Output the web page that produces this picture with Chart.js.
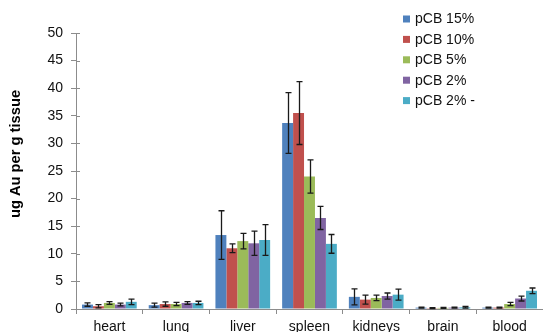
<!DOCTYPE html>
<html lang="en">
<head>
    <meta charset="UTF-8">
    <title>ug Au per g tissue</title>
    <script src="https://cdn.jsdelivr.net/npm/chart.js"></script>
    <style>
        html, body { margin: 0; padding: 0; background: #fff; }
        #wrap { width: 543px; height: 332px; }
    </style>
</head>
<body>
    <div id="wrap"><canvas id="chart_tissue"></canvas></div>

    <script>
        // organs
        const organs = ['heart', 'lung', 'liver', 'spleen', 'kidneys', 'brain', 'blood'];

        // mean values per formulation
        const pcb15 = [0.8, 0.7, 13.4, 33.7, 2.2, 0.25, 0.25];
        const pcb10 = [0.5, 0.9, 11.0, 35.5, 1.7, 0.15, 0.25];
        const pcb5 = [1.1, 0.9, 12.3, 24.0, 2.0, 0.2, 0.9];
        const pcb2 = [0.8, 1.1, 11.9, 16.5, 2.35, 0.25, 1.9];
        const pcb2minus = [1.3, 1.1, 12.5, 11.8, 2.6, 0.3, 3.3];

        // error (+/-)
        const err15 = [0.3, 0.35, 4.4, 5.5, 1.45, 0.1, 0.1];
        const err10 = [0.3, 0.4, 0.8, 5.7, 0.8, 0.1, 0.1];
        const err5 = [0.25, 0.3, 1.4, 3.0, 0.5, 0.1, 0.3];
        const err2 = [0.25, 0.25, 2.2, 2.1, 0.55, 0.1, 0.45];
        const err2minus = [0.5, 0.3, 2.8, 1.7, 1.0, 0.15, 0.5];

        const yTicks = [0, 5, 10, 15, 20, 25, 30, 35, 40, 45, 50];
        const yTitle = 'ug Au per g tissue';

        const font = 'Liberation Sans, Arial, sans-serif';

        // error bars drawn through the y scale
        const errorBars = {
            id: 'errorBars',
            afterDatasetsDraw(chart) {
                const ctx = chart.ctx;
                const y = chart.scales.y;
                ctx.save();
                ctx.strokeStyle = '#1a1a1a';
                ctx.lineWidth = 1.3;
                chart.data.datasets.forEach((ds, i) => {
                    const meta = chart.getDatasetMeta(i);
                    meta.data.forEach((bar, j) => {
                        const v = ds.data[j];
                        const e = ds.errors[j];
                        const top = y.getPixelForValue(v + e);
                        const bot = y.getPixelForValue(Math.max(0, v - e));
                        const x = Math.round(bar.x) + 0.5;
                        ctx.beginPath();
                        ctx.moveTo(x, top);
                        ctx.lineTo(x, bot);
                        ctx.moveTo(x - 3, top);
                        ctx.lineTo(x + 3, top);
                        ctx.moveTo(x - 3, bot);
                        ctx.lineTo(x + 3, bot);
                        ctx.stroke();
                    });
                });
                ctx.restore();
            }
        };

        // legend inside the plot, top right + y title + inner tick stubs
        const extras = {
            id: 'extras',
            afterDraw(chart) {
                const ctx = chart.ctx;
                const y = chart.scales.y;
                const area = chart.chartArea;
                ctx.save();

                // short tick marks inside the y axis too
                ctx.strokeStyle = '#8c8c8c';
                ctx.lineWidth = 1;
                y.ticks.forEach(t => {
                    const py = Math.round(y.getPixelForValue(t.value)) + 0.5;
                    ctx.beginPath();
                    ctx.moveTo(area.left, py);
                    ctx.lineTo(area.left + 4, py);
                    ctx.stroke();
                });

                // legend
                ctx.font = '14px ' + font;
                ctx.textBaseline = 'middle';
                chart.data.datasets.forEach((ds, i) => {
                    const cy = 19 + i * 20.4;
                    ctx.fillStyle = ds.backgroundColor;
                    ctx.fillRect(403, cy - 3.5, 7, 7);
                    ctx.fillStyle = '#111';
                    ctx.fillText(ds.label, 415, cy + 0.5);
                });

                // y axis title
                ctx.translate(20, 154);
                ctx.rotate(-Math.PI / 2);
                ctx.textAlign = 'center';
                ctx.textBaseline = 'alphabetic';
                ctx.fillStyle = '#000';
                ctx.font = 'bold 14.7px ' + font;
                ctx.fillText(yTitle, 0, 0);
                ctx.restore();
            }
        };

        const ctx = document.getElementById('chart_tissue').getContext('2d');
        new Chart(ctx, {
            type: 'bar',
            data: {
                labels: organs,
                datasets: [
                    { label: 'pCB 15%', data: pcb15, errors: err15, backgroundColor: '#4F81BD' },
                    { label: 'pCB 10%', data: pcb10, errors: err10, backgroundColor: '#C0504D' },
                    { label: 'pCB 5%', data: pcb5, errors: err5, backgroundColor: '#9BBB59' },
                    { label: 'pCB 2%', data: pcb2, errors: err2, backgroundColor: '#8064A2' },
                    { label: 'pCB 2% -', data: pcb2minus, errors: err2minus, backgroundColor: '#4BACC6' }
                ]
            },
            options: {
                responsive: true,
                maintainAspectRatio: false,
                animation: false,
                layout: { padding: { top: 33, left: 0, right: 0, bottom: 0 } },
                datasets: { bar: { categoryPercentage: 0.82, barPercentage: 1.0 } },
                plugins: {
                    legend: { display: false },
                    tooltip: { enabled: false }
                },
                scales: {
                    x: {
                        grid: { drawOnChartArea: false, tickLength: 5, color: '#8c8c8c' },
                        border: { color: '#8c8c8c' },
                        ticks: { color: '#111', font: { family: font, size: 14 }, padding: 5, maxRotation: 0 },
                        afterFit(scale) { scale.height = 23; }
                    },
                    y: {
                        min: 0,
                        max: 50,
                        afterBuildTicks(scale) { scale.ticks = yTicks.map(v => ({ value: v })); },
                        grid: { drawOnChartArea: false, tickLength: 5, color: '#8c8c8c' },
                        border: { color: '#8c8c8c' },
                        ticks: { color: '#111', font: { family: font, size: 14 }, padding: 8 },
                        afterFit(scale) { scale.width = 76; }
                    }
                }
            },
            plugins: [errorBars, extras]
        });
    </script>
</body>
</html>
